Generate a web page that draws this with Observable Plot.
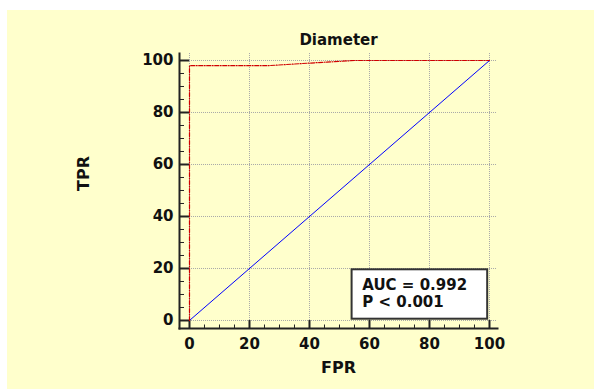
<!DOCTYPE html>
<html><head><meta charset="utf-8">
<script src="https://cdn.jsdelivr.net/npm/d3@7"></script>
<script src="https://cdn.jsdelivr.net/npm/@observablehq/plot@0.6"></script>
<style>
html,body{margin:0;padding:0;background:#fff;}
#chart{position:absolute;left:7px;top:10px;width:587px;height:379px;background:#FFFFCC;overflow:hidden;}
#chart svg{display:block;background:transparent;}
</style></head><body><div id="chart"></div>
<script>
const title = "Diameter";
const xLabel = "FPR";
const yLabel = "TPR";
const majorTicks = [0, 20, 40, 60, 80, 100];
const minorTicks = [5, 10, 15, 25, 30, 35, 45, 50, 55, 65, 70, 75, 85, 90, 95];
// ROC curve (red, dash-dot)
const rocFPR = [0, 0, 26, 40, 55, 100];
const rocTPR = [0, 98, 98, 99, 100, 100];
// reference diagonal (blue)
const refFPR = [0, 100];
const refTPR = [0, 100];
// statistics box
const statText = ["AUC = 0.992", "P < 0.001"];
const statBoxFPR = [54.2, 99.4];
const statBoxTPR = [0.5, 19.5];
const statTextAt = [57.6, 5.1];
const xDomain = [-3.33, 102.67];
const yDomain = [-3.08, 102.69];

const roc = rocFPR.map((x, i) => ({x, y: rocTPR[i]}));
const ref = refFPR.map((x, i) => ({x, y: refTPR[i]}));
const font = "'DejaVu Sans', sans-serif";
const ink = "#111";

const chart = Plot.plot({
  width: 587,
  height: 379,
  marginLeft: 172,
  marginRight: 97,
  marginTop: 43,
  marginBottom: 61,
  style: {fontFamily: font, fontSize: "15px", fontWeight: "bold", color: ink, background: "transparent", overflow: "visible"},
  x: {domain: xDomain, label: null},
  y: {domain: yDomain, label: null},
  marks: [
    // grid
    Plot.ruleY(majorTicks, {y: d => d, x1: 0, x2: xDomain[1], stroke: "#a8a8a8", strokeDasharray: "1,1", strokeWidth: 1}),
    Plot.ruleX(majorTicks, {x: d => d, y1: 0, y2: yDomain[1], stroke: "#a8a8a8", strokeDasharray: "1,1", strokeWidth: 1}),
    // axis lines
    Plot.frame({anchor: "left", stroke: "#222", strokeWidth: 2}),
    Plot.frame({anchor: "bottom", stroke: "#222", strokeWidth: 2}),
    // major ticks (inward)
    Plot.axisY(majorTicks, {anchor: "left", label: null, tickSize: -10, tickFormat: () => "", stroke: "#222", strokeWidth: 2}),
    Plot.axisX(majorTicks, {anchor: "bottom", label: null, tickSize: -8, tickFormat: () => "", stroke: "#222", strokeWidth: 2}),
    // minor ticks
    Plot.axisY(minorTicks, {anchor: "left", label: null, tickSize: -5, tickFormat: () => "", stroke: "#222", strokeWidth: 1}),
    Plot.axisX(minorTicks, {anchor: "bottom", label: null, tickSize: -3.5, tickFormat: () => "", stroke: "#222", strokeWidth: 1}),
    // tick labels
    Plot.axisY(majorTicks, {anchor: "left", tickSize: 0, tickPadding: 6, label: null, fill: ink, fontSize: 15, fontWeight: "bold"}),
    Plot.axisX(majorTicks, {anchor: "bottom", tickSize: 0, tickPadding: 10, label: null, fill: ink, fontSize: 15, fontWeight: "bold"}),
    // curves
    Plot.line(ref, {x: "x", y: "y", stroke: "#0000ff", strokeWidth: 1}),
    Plot.line(roc, {x: "x", y: "y", stroke: "#d00000", strokeWidth: 1.2, strokeDasharray: "4,1.5,1,1.5", curve: "linear"}),
    // stats box
    Plot.rect([0], {x1: () => statBoxFPR[0], x2: () => statBoxFPR[1], y1: () => statBoxTPR[0], y2: () => statBoxTPR[1], fill: "#fff", stroke: "#333", strokeWidth: 2}),
    Plot.text([statText.join("\n")], {x: () => statTextAt[0], y: () => statTextAt[1], text: d => d, textAnchor: "start", lineAnchor: "bottom", lineHeight: 1.18, fontSize: 15, fontWeight: "bold", fill: ink}),
    // title and labels
    Plot.text([title], {frameAnchor: "top", lineAnchor: "bottom", dy: -9, text: d => d, fontSize: 15, fontWeight: "bold", fill: ink}),
    Plot.text([xLabel], {frameAnchor: "bottom", lineAnchor: "bottom", dy: 44, text: d => d, fontSize: 16, fontWeight: "bold", fill: ink}),
    Plot.text([yLabel], {frameAnchor: "left", dx: -96, rotate: -90, text: d => d, fontSize: 16, fontWeight: "bold", fill: ink})
  ]
});
document.getElementById("chart").appendChild(chart);
</script>
</body></html>
